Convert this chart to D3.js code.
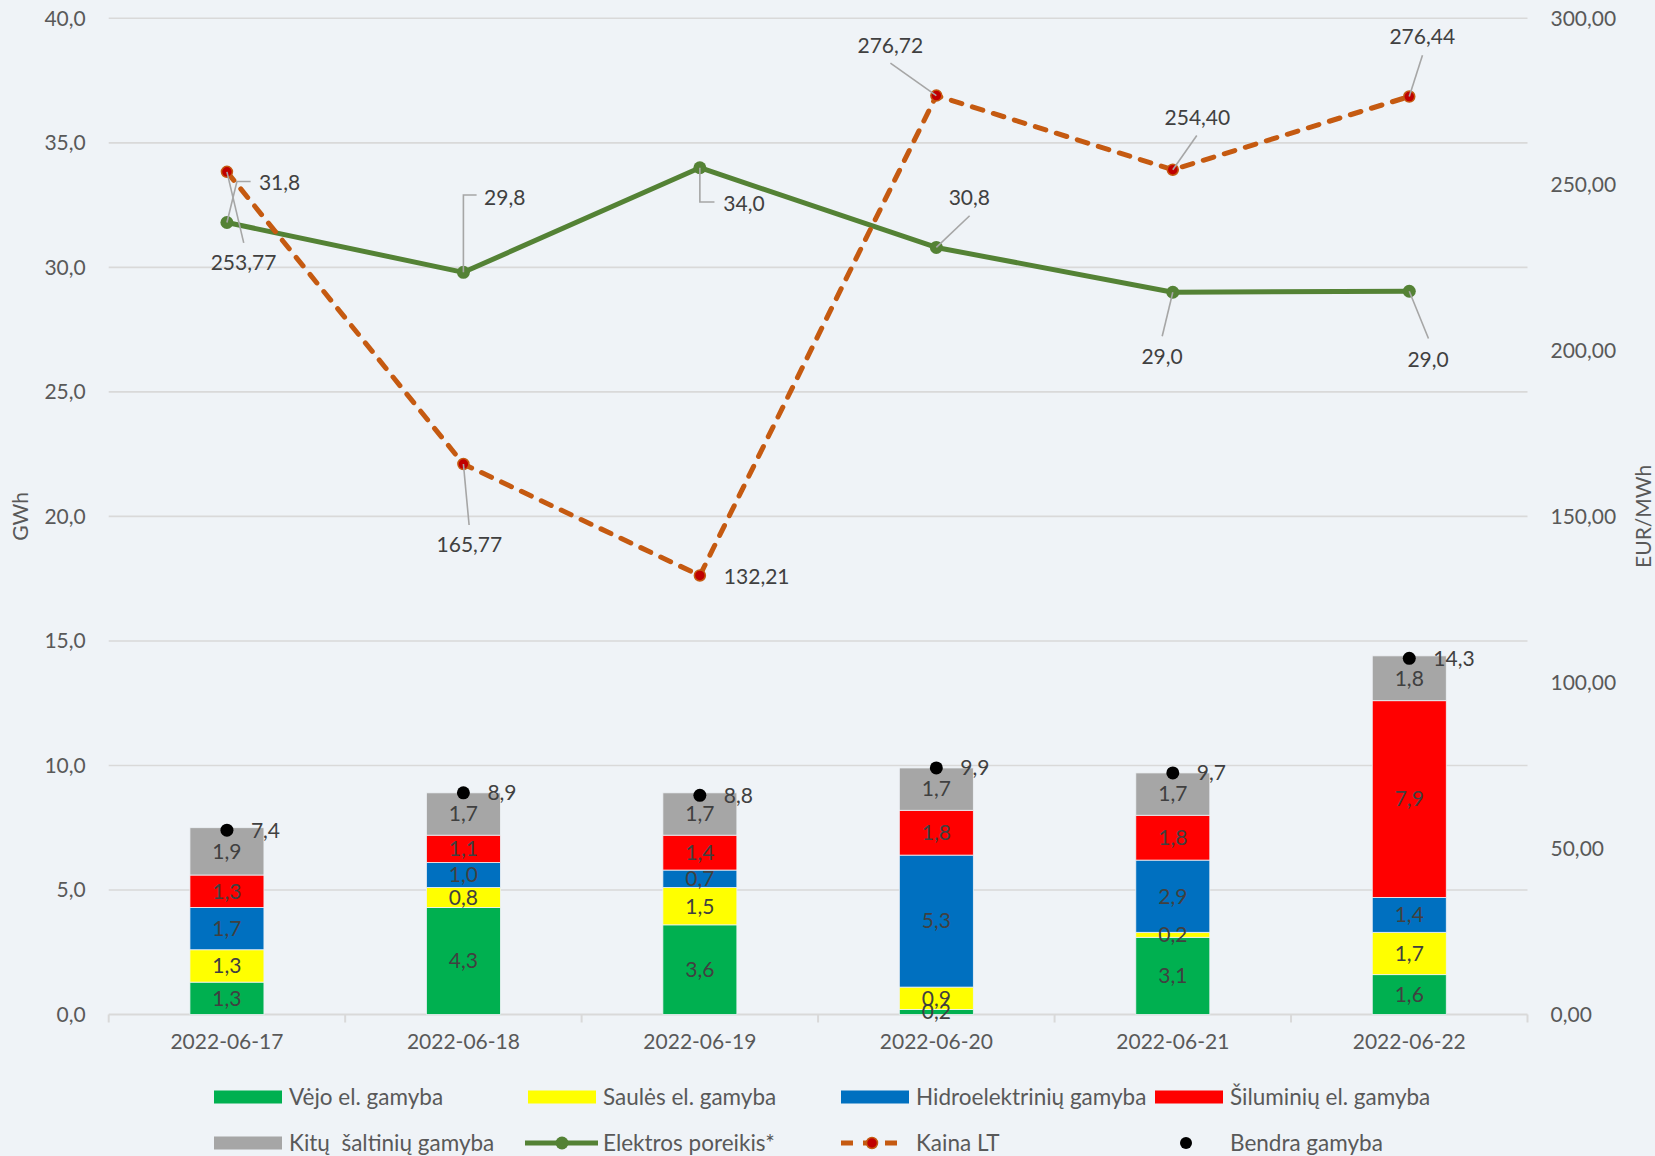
<!DOCTYPE html>
<html>
<head>
<meta charset="utf-8">
<script src="https://cdn.jsdelivr.net/npm/d3@7"></script>
<style>
  html, body { margin: 0; padding: 0; background: #eff3f7; }
  svg { display: block; }
  text { font-family: Lato, "Open Sans", sans-serif; }
</style>
</head>
<body>
<svg id="chart" width="1655" height="1156"></svg>
<script>
// ---------- DATA ----------
const categories = ["2022-06-17", "2022-06-18", "2022-06-19", "2022-06-20", "2022-06-21", "2022-06-22"];
const vejo      = [1.3, 4.3, 3.6, 0.2, 3.1, 1.6];
const saules    = [1.3, 0.8, 1.5, 0.9, 0.2, 1.7];
const hidro     = [1.7, 1.0, 0.7, 5.3, 2.9, 1.4];
const siluminiu = [1.3, 1.1, 1.4, 1.8, 1.8, 7.9];
const kitu      = [1.9, 1.7, 1.7, 1.7, 1.7, 1.8];
const bendra    = [7.4, 8.9, 8.8, 9.9, 9.7, 14.3];
const poreikis  = [31.8, 29.8, 34.0, 30.8, 29.0, 29.04];
const kaina     = [253.77, 165.77, 132.21, 276.72, 254.40, 276.44];
const leftTicks  = [0, 5, 10, 15, 20, 25, 30, 35, 40];
const rightTicks = [0, 50, 100, 150, 200, 250, 300];
const seriesNames = ["Vėjo el. gamyba", "Saulės el. gamyba", "Hidroelektrinių gamyba", "Šiluminių el. gamyba",
                     "Kitų  šaltinių gamyba", "Elektros poreikis*", "Kaina LT", "Bendra gamyba"];

// ---------- LAYOUT / STYLE ----------
const barColors = ["#00B050", "#FFFF00", "#0070C0", "#FF0000", "#A6A6A6"];
const stacks = [vejo, saules, hidro, siluminiu, kitu];
const plot = { left: 108.7, right: 1527.5, top: 18.3, bottom: 1014.5 };
const FS = 21;
const txt = "#404040", tickTxt = "#595959", grid = "#d9d9d9", leader = "#a6a6a6";
const green = "#548235", orange = "#C55A11", dred = "#C00000";

// label placement (offsets from the data point): leader path points and text anchor
const demandLabels = [
  { path: [[10, -41], [23.7, -41]], t: [32, -40], a: "start" },
  { path: [[0, -77.3], [13.2, -77.3]], t: [20.7, -75], a: "start" },
  { path: [[0, 34.3], [14.6, 34.3]], t: [23.4, 36], a: "start" },
  { path: [[33.3, -31.7]], t: [33, -49.4], a: "middle" },
  { path: [[-10.6, 44]], t: [-10.7, 64.6], a: "middle" },
  { path: [[19.2, 47.3]], t: [18.8, 68], a: "middle" }
];
const priceLabels = [
  { path: [[16.8, 71]], t: [16.6, 91.3], a: "middle" },
  { path: [[5.7, 61]], t: [6, 80.3], a: "middle" },
  { path: [], t: [24, 1], a: "start" },
  { path: [[-45.9, -32.4]], t: [-46, -49.7], a: "middle" },
  { path: [[24, -34.3]], t: [24.6, -51.7], a: "middle" },
  { path: [[13.2, -41.3]], t: [13, -60], a: "middle" }
];

const loc = d3.formatLocale({ decimal: ",", thousands: " ", grouping: [3], currency: ["", ""] });
const f1 = loc.format(".1f"), f2 = loc.format(".2f");

const svg = d3.select("#chart");
svg.append("rect").attr("width", 1655).attr("height", 1156).attr("fill", "#eff3f7");

const x = d3.scaleBand().domain(categories).range([plot.left, plot.right]).paddingInner(0.687).paddingOuter(0.3435);
const cx = c => x(c) + x.bandwidth() / 2;
const yL = d3.scaleLinear().domain([0, 40]).range([plot.bottom, plot.top]);
const yR = d3.scaleLinear().domain([0, 300]).range([plot.bottom, plot.top]);

// gridlines
svg.append("g").selectAll("line").data(leftTicks.filter(d => d > 0)).join("line")
  .attr("x1", plot.left).attr("x2", plot.right)
  .attr("y1", d => yL(d)).attr("y2", d => yL(d))
  .attr("stroke", grid).attr("stroke-width", 1.6);

// left axis
const axL = svg.append("g").attr("transform", `translate(${plot.left},0)`)
  .call(d3.axisLeft(yL).tickValues(leftTicks).tickFormat(f1).tickSize(0).tickPadding(23));
axL.select(".domain").remove();
axL.selectAll("text").attr("font-size", FS).attr("fill", tickTxt).attr("font-family", "Lato, sans-serif");

// right axis
const axR = svg.append("g").attr("transform", `translate(${plot.right},0)`)
  .call(d3.axisRight(yR).tickValues(rightTicks).tickFormat(f2).tickSize(0).tickPadding(23));
axR.select(".domain").remove();
axR.selectAll("text").attr("font-size", FS).attr("fill", tickTxt).attr("font-family", "Lato, sans-serif");

// bottom axis
const bounds = categories.map(c => x(c) - x.step() * x.paddingInner() / 2).concat([plot.right]);
svg.append("line").attr("x1", plot.left).attr("x2", plot.right)
  .attr("y1", plot.bottom).attr("y2", plot.bottom).attr("stroke", grid).attr("stroke-width", 2);
svg.append("g").selectAll("line").data(bounds).join("line")
  .attr("x1", d => d).attr("x2", d => d).attr("y1", plot.bottom).attr("y2", plot.bottom + 8)
  .attr("stroke", grid).attr("stroke-width", 2);
const axB = svg.append("g").attr("transform", `translate(0,${plot.bottom})`)
  .call(d3.axisBottom(x).tickSize(0).tickPadding(20));
axB.select(".domain").remove();
axB.selectAll("text").attr("font-size", FS).attr("fill", tickTxt).attr("font-family", "Lato, sans-serif");

// axis titles
svg.append("text").attr("transform", `translate(28,${(plot.top + plot.bottom) / 2}) rotate(-90)`)
  .attr("text-anchor", "middle").attr("font-size", FS).attr("fill", tickTxt).text("GWh");
svg.append("text").attr("transform", `translate(1651,${(plot.top + plot.bottom) / 2}) rotate(-90)`)
  .attr("text-anchor", "middle").attr("font-size", FS).attr("fill", tickTxt).text("EUR/MWh");

// stacked bars
const rows = categories.map((c, i) => {
  const o = { cat: c };
  stacks.forEach((s, k) => o["s" + k] = s[i]);
  return o;
});
const stackGen = d3.stack().keys(stacks.map((s, k) => "s" + k));
const stacked = stackGen(rows);
const gBars = svg.append("g");
stacked.forEach((layer, k) => {
  gBars.append("g").selectAll("rect").data(layer).join("rect")
    .attr("x", d => x(d.data.cat)).attr("width", x.bandwidth())
    .attr("y", d => yL(d[1])).attr("height", d => yL(d[0]) - yL(d[1]))
    .attr("fill", barColors[k]).attr("stroke", "#eef2f6").attr("stroke-width", 0.8);
});
stacked.forEach((layer, k) => {
  gBars.append("g").selectAll("text").data(layer).join("text")
    .attr("x", d => cx(d.data.cat)).attr("y", d => (yL(d[0]) + yL(d[1])) / 2)
    .attr("dy", "0.35em").attr("text-anchor", "middle").attr("font-size", FS).attr("fill", txt)
    .text(d => f1(d[1] - d[0]));
});

// lines
const lineL = d3.line().x((d, i) => cx(categories[i])).y(d => yL(d));
const lineR = d3.line().x((d, i) => cx(categories[i])).y(d => yR(d));

function drawLeaders(values, yScale, labels) {
  const g = svg.append("g");
  values.forEach((v, i) => {
    const px = cx(categories[i]), py = yScale(v), L = labels[i];
    if (L.path.length) {
      const pts = [[px, py]].concat(L.path.map(p => [px + p[0], py + p[1]]));
      g.append("path").attr("d", d3.line()(pts)).attr("fill", "none")
        .attr("stroke", leader).attr("stroke-width", 1.6);
    }
  });
  return g;
}
function drawLabels(values, yScale, labels, fmt) {
  const g = svg.append("g");
  values.forEach((v, i) => {
    const px = cx(categories[i]), py = yScale(v), L = labels[i];
    g.append("text").attr("x", px + L.t[0]).attr("y", py + L.t[1]).attr("dy", "0.35em")
      .attr("text-anchor", L.a).attr("font-size", FS).attr("fill", txt).text(fmt(v));
  });
}

svg.append("path").datum(poreikis).attr("d", lineL).attr("fill", "none")
  .attr("stroke", green).attr("stroke-width", 5).attr("stroke-linejoin", "round");
svg.append("g").selectAll("circle").data(poreikis).join("circle")
  .attr("cx", (d, i) => cx(categories[i])).attr("cy", d => yL(d)).attr("r", 6.5).attr("fill", green);

svg.append("path").datum(kaina).attr("d", lineR).attr("fill", "none")
  .attr("stroke", orange).attr("stroke-width", 5).attr("stroke-dasharray", "11,11").attr("stroke-linecap", "round");
svg.append("g").selectAll("circle").data(kaina).join("circle")
  .attr("cx", (d, i) => cx(categories[i])).attr("cy", d => yR(d)).attr("r", 5.5)
  .attr("fill", dred).attr("stroke", orange).attr("stroke-width", 1.5);

drawLeaders(poreikis, yL, demandLabels);
drawLeaders(kaina, yR, priceLabels);
drawLabels(poreikis, yL, demandLabels, f1);
drawLabels(kaina, yR, priceLabels, f2);

// total production dots
svg.append("g").selectAll("circle").data(bendra).join("circle")
  .attr("cx", (d, i) => cx(categories[i])).attr("cy", d => yL(d)).attr("r", 6.5).attr("fill", "#000");
svg.append("g").selectAll("text").data(bendra).join("text")
  .attr("x", (d, i) => cx(categories[i]) + 24).attr("y", d => yL(d)).attr("dy", "0.35em")
  .attr("font-size", FS).attr("fill", txt).text(d => f1(d));

// legend
const legendPos = [[214, 1097], [528, 1097], [841, 1097], [1155, 1097],
                   [214, 1143], [528, 1143], [841, 1143], [1155, 1143]];
const lg = svg.append("g");
seriesNames.forEach((name, k) => {
  const [lx, ly] = legendPos[k];
  if (k < 5) {
    lg.append("rect").attr("x", lx).attr("y", ly - 6.5).attr("width", 68).attr("height", 13).attr("fill", barColors[k]);
  } else if (k === 5) {
    lg.append("line").attr("x1", lx - 3).attr("x2", lx + 70).attr("y1", ly).attr("y2", ly)
      .attr("stroke", green).attr("stroke-width", 5);
    lg.append("circle").attr("cx", lx + 34).attr("cy", ly).attr("r", 6.5).attr("fill", green);
  } else if (k === 6) {
    lg.append("line").attr("x1", lx).attr("x2", lx + 66).attr("y1", ly).attr("y2", ly)
      .attr("stroke", orange).attr("stroke-width", 5).attr("stroke-dasharray", "12,10");
    lg.append("circle").attr("cx", lx + 31).attr("cy", ly).attr("r", 5.5).attr("fill", dred).attr("stroke", orange).attr("stroke-width", 1.5);
  } else {
    lg.append("circle").attr("cx", lx + 31).attr("cy", ly).attr("r", 6).attr("fill", "#000");
  }
  lg.append("text").attr("x", lx + 75).attr("y", ly).attr("dy", "0.35em")
    .attr("font-size", 22.5).attr("fill", tickTxt).style("white-space", "pre").text(name);
});
</script>
</body>
</html>
